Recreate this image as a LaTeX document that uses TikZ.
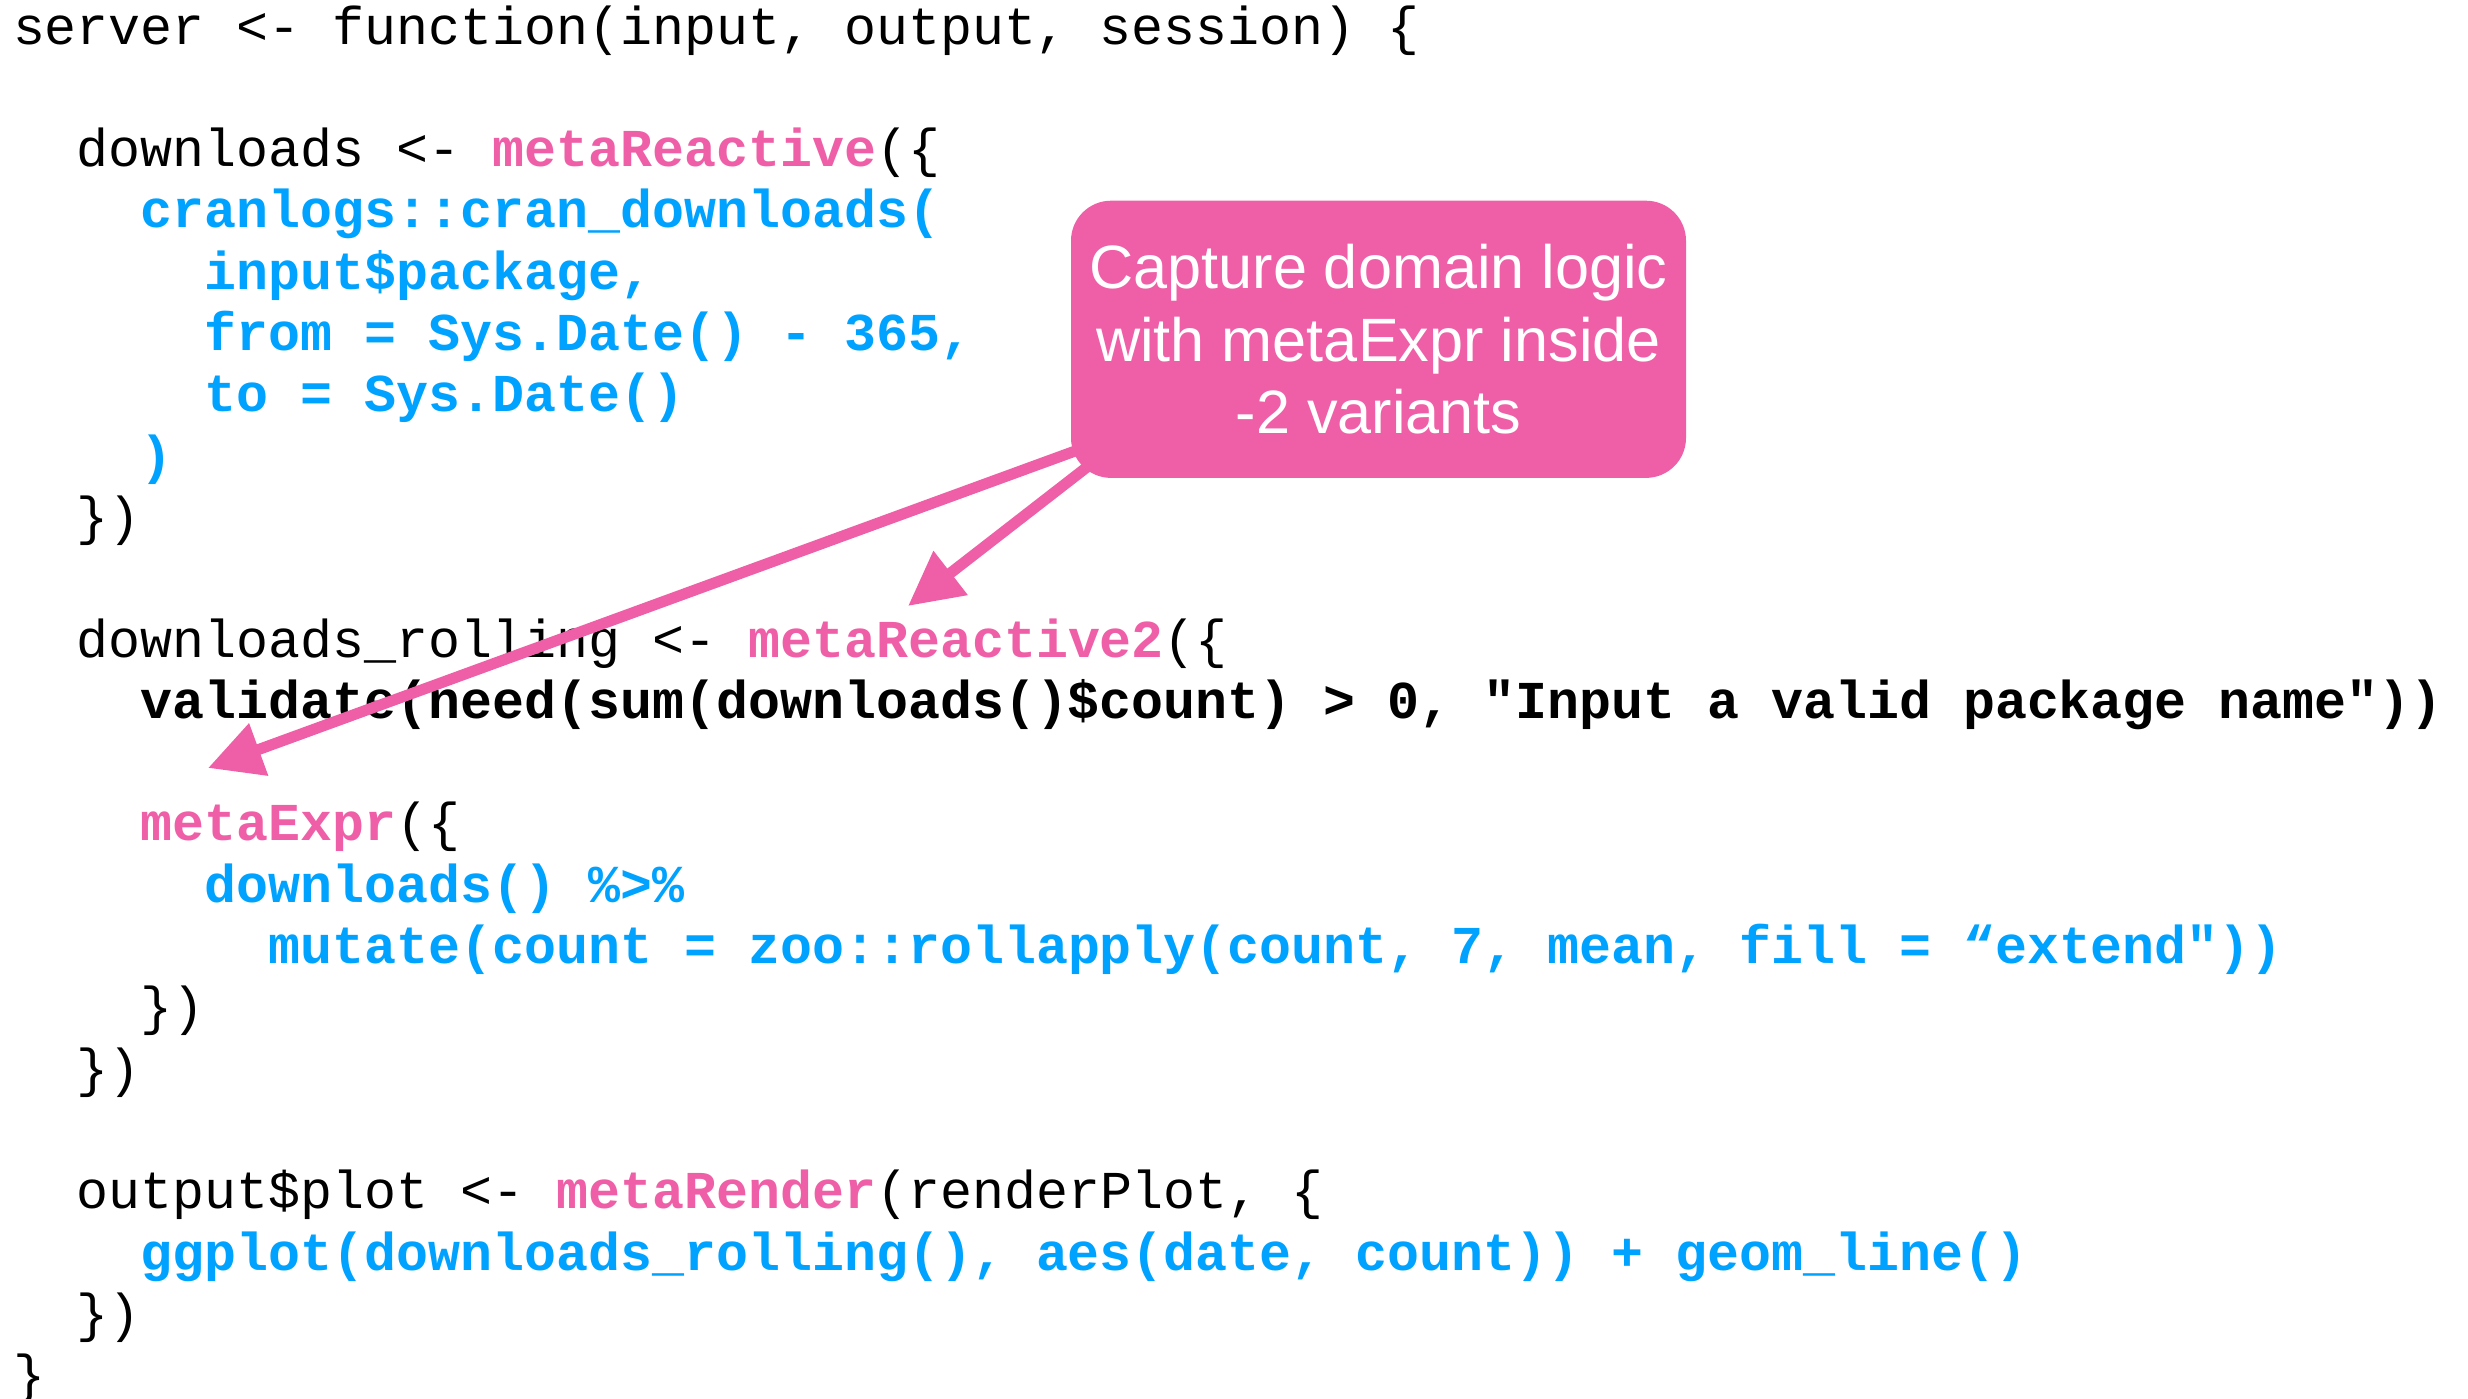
\documentclass[tikz,border=0pt]{standalone}
\usepackage{fontspec}
\setmainfont{Liberation Sans}
\setsansfont{Liberation Sans}
\setmonofont{Liberation Mono}
\usetikzlibrary{arrows.meta,calc}

\definecolor{kpink}{HTML}{EF5FA7}
\definecolor{kblue}{HTML}{00A2FF}

\newcommand\hlpink[1]{{\color{kpink}\bfseries #1}}

\pgfdeclarelayer{front}
\pgfsetlayers{main,front}

\tikzset{
  code/.style={anchor=base west, inner sep=0pt, outer sep=0pt,
    font=\ttfamily\fontsize{26.64}{30}\selectfont, text=black},
  codebold/.style={code, font=\ttfamily\bfseries\fontsize{26.64}{30}\selectfont},
  callout/.style={fill=kpink, draw=none, rounded corners=20pt,
    minimum width=307.5pt, minimum height=138.6pt, inner sep=0pt,
    align=center, text=white,
    font=\sffamily\fontsize{30.6}{36.35}\selectfont},
  pointer/.style={draw=kpink, line width=5.5pt,
    -{Triangle[length=27pt,width=26.5pt]}}
}

\begin{document}
\begin{tikzpicture}[x=0.5pt,y=-0.5pt]
\useasboundingbox (0,0) rectangle (2468,1398);

% code listing, one node per line (indent step 31.97)
\node[code] (l1) at (13,44) {server <- function(input, output, session) \{};
\node[code] (l3) at (76.9,166.6) {downloads <- \hlpink{metaReactive}(\{};
\node[codebold,text=kblue] (l4) at (140.9,227.9) {cranlogs::cran\_downloads(};
\node[codebold,text=kblue] (l5) at (204.8,289.2) {input\$package,};
\node[codebold,text=kblue] (l6) at (204.8,350.5) {from = Sys.Date() - 365,};
\node[codebold,text=kblue] (l7) at (204.8,411.8) {to = Sys.Date()};
\node[codebold,text=kblue] (l8) at (140.9,473.1) {)};
\node[code] (l9) at (76.9,534.4) {\})};

\node[code] (l11) at (76.9,657) {downloads\_rolling <- \hlpink{metaReactive2}(\{};
\node[codebold] (l12) at (140.9,718.3) {validate(need(sum(downloads()\$count) > 0, "Input a valid package name"))};

\node[code] (l14) at (140.9,840.9) {\hlpink{metaExpr}(\{};
\node[codebold,text=kblue] (l15) at (204.8,902.2) {downloads() \%>\%};
\node[codebold,text=kblue] (l16) at (268.8,963.5) {mutate(count = zoo::rollapply(count, 7, mean, fill = “extend"))};
\node[code] (l17) at (140.9,1024.8) {\})};
\node[code] (l18) at (76.9,1086.1) {\})};

\node[code] (l20) at (76.9,1208.7) {output\$plot <- \hlpink{metaRender}(renderPlot, \{};
\node[codebold,text=kblue] (l21) at (140.9,1270) {ggplot(downloads\_rolling(), aes(date, count)) + geom\_line()};
\node[code] (l22) at (76.9,1331.3) {\})};
\node[code] (l23) at (13,1392.6) {\}};

% callout box sits above the arrows
\begin{pgfonlayer}{front}
\node[callout] (note) at (1378.5,339.3)
  {Capture domain logic\\with metaExpr inside\\-2 variants};
\end{pgfonlayer}

% arrow end points
\coordinate (tipExpr) at (208,768);
\coordinate (tipReactive) at (908,606);

\draw[pointer] ($(note.south west)+(24,-34.4)$) -- (tipExpr);
\draw[pointer] ($(note.south west)+(29,-21)$) -- (tipReactive);
\end{tikzpicture}
\end{document}
